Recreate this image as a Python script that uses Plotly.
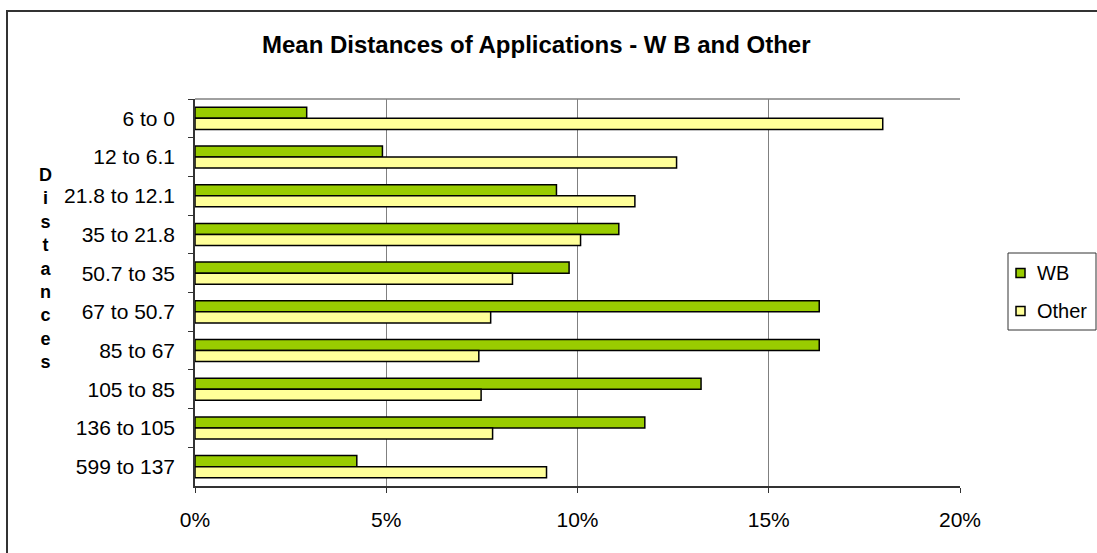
import plotly.graph_objects as go

# Distance bands (top to bottom) and share of applications per band
categories = ["6 to 0", "12 to 6.1", "21.8 to 12.1", "35 to 21.8", "50.7 to 35",
              "67 to 50.7", "85 to 67", "105 to 85", "136 to 105", "599 to 137"]
wb_share = [2.92, 4.9, 9.45, 11.08, 9.78, 16.32, 16.32, 13.23, 11.76, 4.23]
other_share = [17.98, 12.59, 11.5, 10.08, 8.3, 7.73, 7.42, 7.48, 7.78, 9.19]
x_ticks = [0, 5, 10, 15, 20]
x_tick_labels = ["0%", "5%", "10%", "15%", "20%"]
series_names = ["WB", "Other"]
series_colors = ["#99CC00", "#FFFF99"]

W, H = 1097, 553
L, R, T, B = 195, 137, 99, 67
pw, ph = W - L - R, H - T - B

def px_x(p):
    return (p - L) / pw

def px_y(p):
    return (H - B - p) / ph

FONT = "Liberation Sans, Arial, sans-serif"

fig = go.Figure()
for name, color, values in zip(series_names, series_colors, [wb_share, other_share]):
    fig.add_trace(go.Bar(y=categories, x=values, name=name, orientation="h",
                         marker=dict(color=color, line=dict(color="black", width=1.5))))

shapes = [
    # plot area top border
    dict(type="line", xref="paper", yref="paper", x0=0, x1=1, y0=1, y1=1,
         line=dict(color="#808080", width=1.5)),
    # outer chart frame, right and bottom edges sit just past the page edge
    dict(type="rect", xref="paper", yref="paper",
         x0=px_x(7), x1=px_x(1100), y0=px_y(556), y1=px_y(11),
         line=dict(color="#333333", width=2), layer="below"),
    # legend box
    dict(type="rect", xref="paper", yref="paper",
         x0=px_x(1008), x1=px_x(1096), y0=px_y(330), y1=px_y(253),
         line=dict(color="#333333", width=1), fillcolor="white"),
]
annotations = [
    dict(text="<b>Mean Distances of Applications - W B and Other</b>",
         xref="paper", yref="paper", x=px_x(536), y=px_y(45),
         xanchor="center", yanchor="middle", showarrow=False,
         font=dict(size=24, family=FONT)),
    dict(text="<b>" + "<br>".join("Distances") + "</b>",
         xref="paper", yref="paper", x=px_x(45), y=px_y(268),
         xanchor="center", yanchor="middle", showarrow=False,
         font=dict(size=18, family=FONT)),
]

# legend entries: swatch + label
for i, (name, color) in enumerate(zip(series_names, series_colors)):
    cy = 273 + i * 38
    shapes.append(dict(type="rect", xref="paper", yref="paper",
                       x0=px_x(1016), x1=px_x(1025), y0=px_y(cy + 4.5), y1=px_y(cy - 4.5),
                       line=dict(color="black", width=1.5), fillcolor=color))
    annotations.append(dict(text=name, xref="paper", yref="paper",
                            x=px_x(1035), y=px_y(cy), xanchor="left", yanchor="middle",
                            showarrow=False, font=dict(size=20, family=FONT)))

fig.update_layout(
    width=W, height=H,
    margin=dict(l=L, r=R, t=T, b=B, autoexpand=False),
    paper_bgcolor="white", plot_bgcolor="white",
    barmode="group", bargap=0.43, bargroupgap=0,
    font=dict(family=FONT, size=21, color="black"),
    showlegend=False,
    xaxis=dict(range=[0, 20], tickvals=x_ticks, ticktext=x_tick_labels,
               showgrid=True, gridcolor="#808080", gridwidth=1,
               showline=True, linecolor="#333333", linewidth=1.5,
               ticks="outside", ticklen=5, tickcolor="#333333",
               ticklabelstandoff=9, zeroline=False, fixedrange=True),
    yaxis=dict(autorange="reversed", type="category",
               showline=True, linecolor="#333333", linewidth=1.5,
               ticks="outside", ticklen=5, tickcolor="#333333",
               tickson="boundaries", ticklabelstandoff=14,
               showgrid=False, fixedrange=True),
    shapes=shapes,
    annotations=annotations,
)

fig.write_html(
    "out.html",
    config={"displayModeBar": False},
    post_script=("document.documentElement.style.overflow='hidden';"
                 "document.body.style.margin='0';document.body.style.overflow='hidden';"),
)
